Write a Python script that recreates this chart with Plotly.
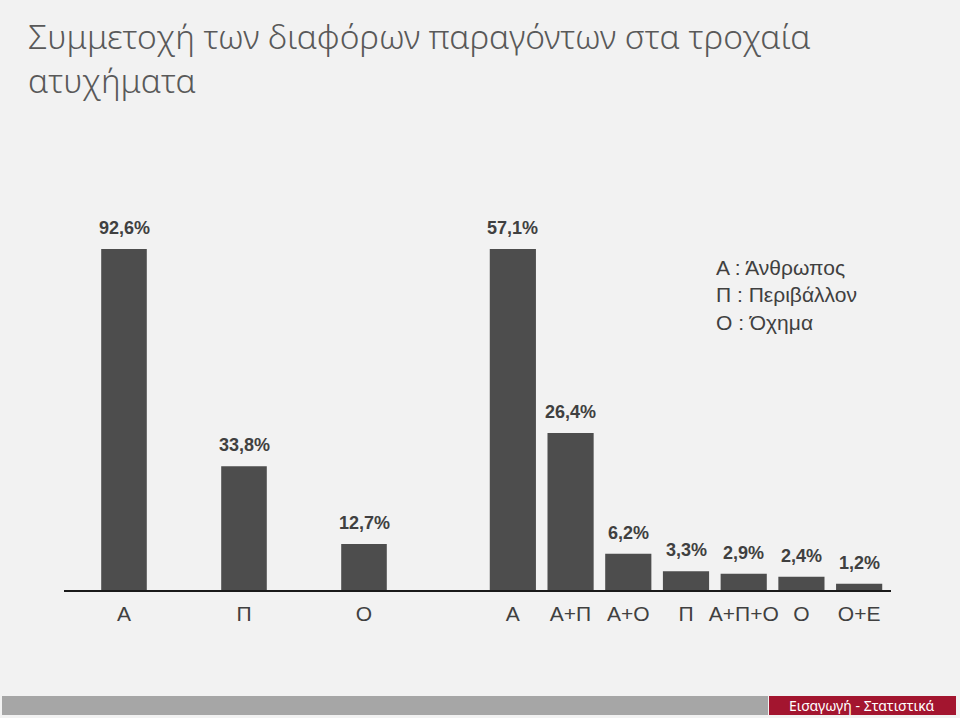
import plotly.graph_objects as go

# data
left_cats = ['Α', 'Π', 'Ο']
left_vals = [92.6, 33.8, 12.7]
right_cats = ['Α', 'Α+Π', 'Α+Ο', 'Π', 'Α+Π+Ο', 'Ο', 'Ο+Ε']
right_vals = [57.1, 26.4, 6.2, 3.3, 2.9, 2.4, 1.2]
legend_lines = ['Α : Άνθρωπος', 'Π : Περιβάλλον', 'Ο : Όχημα']
title_text = 'Συμμετοχή των διαφόρων παραγόντων στα τροχαία<br>ατυχήματα'
footer_text = 'Εισαγωγή - Στατιστικά'

W, H = 960, 718
L, R, T, B = 64, 891, 200, 591  # plot area in pixels

def px(x):
    return (x - L) / (R - L)

def py(y):
    return (B - y) / (B - T)

def pct(v):
    return [('%.1f%%' % a).replace('.', ',') for a in v]

bar_color = '#4d4d4d'
text_color = '#404040'

fig = go.Figure()
fig.add_trace(go.Bar(x=left_cats, y=left_vals, width=0.38,
                     marker=dict(color=bar_color, line=dict(width=0)),
                     xaxis='x', yaxis='y'))
fig.add_trace(go.Bar(x=right_cats, y=right_vals, width=0.8,
                     marker=dict(color=bar_color, line=dict(width=0)),
                     xaxis='x2', yaxis='y2'))

# value labels above the bars
label_font = dict(family='Liberation Sans', size=18, color=text_color, weight='bold')
for cats, vals, xr, yr in [(left_cats, left_vals, 'x', 'y'),
                           (right_cats, right_vals, 'x2', 'y2')]:
    for c, v, t in zip(cats, vals, pct(vals)):
        fig.add_annotation(x=c, y=v, xref=xr, yref=yr, text=t, showarrow=False,
                           yanchor='bottom', yshift=9, font=label_font)

axis_font = dict(family='Liberation Sans', size=21, color=text_color)
fig.update_layout(
    width=W, height=H,
    margin=dict(l=L, r=W - R, t=T, b=H - B),
    paper_bgcolor='#f2f2f2', plot_bgcolor='#f2f2f2',
    showlegend=False,
    xaxis=dict(domain=[0, px(424)], type='category', showgrid=False, zeroline=False,
               showline=False, ticks='', tickfont=axis_font, ticklabelstandoff=8),
    xaxis2=dict(domain=[px(484), px(888)], type='category', showgrid=False, zeroline=False,
                showline=False, ticks='', tickfont=axis_font, ticklabelstandoff=8,
                anchor='y2'),
    yaxis=dict(range=[0, 92.6 * (B - T) / (B - 249)], visible=False),
    yaxis2=dict(range=[0, 57.1 * (B - T) / (B - 249)], visible=False,
                overlaying='y', anchor='x2'),
)

shapes = [
    # baseline
    dict(type='line', xref='paper', yref='paper', x0=0, x1=1, y0=py(591), y1=py(591),
         line=dict(color='#1a1a1a', width=2)),
    # footer bars
    dict(type='rect', xref='paper', yref='paper', x0=px(2), x1=px(768),
         y0=py(715), y1=py(696), fillcolor='#a6a6a6', line=dict(width=0), layer='below'),
    dict(type='rect', xref='paper', yref='paper', x0=px(769), x1=px(956),
         y0=py(715), y1=py(696), fillcolor='#a3152f', line=dict(width=0), layer='below'),
]
fig.update_layout(shapes=shapes)

fig.add_annotation(text=title_text, xref='paper', yref='paper', x=px(26), y=py(11),
                   xanchor='left', yanchor='top', align='left', showarrow=False,
                   font=dict(family='Noto Sans', size=33.5, color='#595959', weight=300))
fig.add_annotation(text='<br>'.join(legend_lines), xref='paper', yref='paper',
                   x=px(714), y=py(254), xanchor='left', yanchor='top', align='left',
                   showarrow=False,
                   font=dict(family='Liberation Sans', size=21, color=text_color))
fig.add_annotation(text=footer_text, xref='paper', yref='paper', x=px(862), y=py(705.5),
                   xanchor='center', yanchor='middle', showarrow=False,
                   font=dict(family='Noto Sans', size=14, color='white'))

# page body has a default margin, drop it so the figure fills the window
fig.write_html("out.html", config={'displayModeBar': False},
               post_script="document.body.style.margin='0';")
